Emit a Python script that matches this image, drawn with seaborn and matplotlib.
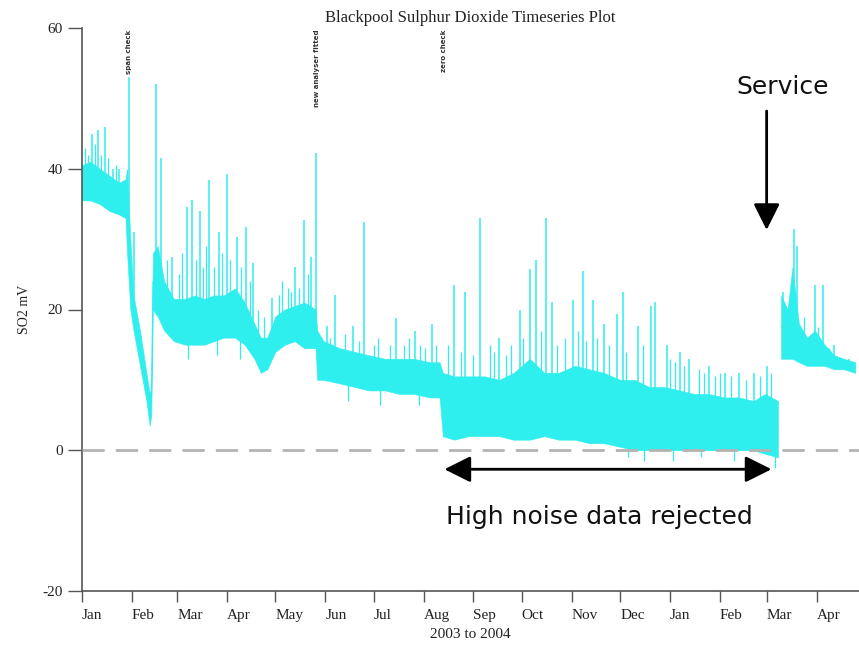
import numpy as np
import pandas as pd
import matplotlib
matplotlib.use("Agg")
import matplotlib.pyplot as plt
import matplotlib.dates as mdates
import seaborn as sns

# ---------------- data ----------------
# continuous record, Jan 2003 -> early Mar 2004 : noise band (low / high)
seg1_dates = ["2003-01-01", "2003-01-06", "2003-01-12", "2003-01-18", "2003-01-24", "2003-01-28",
              "2003-01-29", "2003-01-31", "2003-02-02", "2003-02-06", "2003-02-10", "2003-02-12",
              "2003-02-13", "2003-02-14", "2003-02-17", "2003-02-21", "2003-02-27", "2003-03-06",
              "2003-03-12", "2003-03-18", "2003-03-24", "2003-03-30", "2003-04-06", "2003-04-12",
              "2003-04-18", "2003-04-22", "2003-04-26", "2003-05-01", "2003-05-07", "2003-05-13",
              "2003-05-19", "2003-05-26", "2003-05-27", "2003-05-31", "2003-06-10", "2003-06-19",
              "2003-06-28", "2003-07-08", "2003-07-17", "2003-07-26", "2003-08-05", "2003-08-11",
              "2003-08-13", "2003-08-20", "2003-08-29", "2003-09-08", "2003-09-17", "2003-09-26",
              "2003-10-06", "2003-10-15", "2003-10-24", "2003-11-03", "2003-11-12", "2003-11-21",
              "2003-12-01", "2003-12-10", "2003-12-19", "2003-12-28", "2004-01-07", "2004-01-16",
              "2004-01-25", "2004-02-04", "2004-02-13", "2004-02-22", "2004-02-29", "2004-03-08"]
seg1_lo = [35.5, 35.5, 35, 34, 33.5, 33,
           28, 20, 17, 12, 7, 3.5,
           5, 20, 19, 17, 15.5, 15,
           15, 15, 15.5, 16, 16, 15,
           13, 11, 11.5, 14, 15, 15.5,
           14.5, 14.5, 10, 10, 9.5, 9,
           8.5, 8.5, 8, 8, 7.5, 7.5,
           2, 1.5, 2, 2, 2, 1.5,
           1.5, 2, 1.5, 1.5, 1, 1,
           0.5, 0, 0, 0, 0, 0,
           0, 0, 0, 0, -0.5, -1]
seg1_hi = [40.5, 41, 40, 39, 38, 38.5,
           40, 30, 22, 17, 11, 8,
           9, 28, 29, 24, 21.5, 21.5,
           22, 21.5, 22, 22, 23, 21,
           18, 16, 16, 19, 20, 20.5,
           21, 20, 17, 15.5, 14.5, 14,
           13.5, 13, 13, 13, 12.5, 12.5,
           11, 10.5, 10.5, 10.5, 10, 11,
           13, 11, 11, 12, 11.5, 11,
           10, 10, 9, 9, 8.5, 8,
           8, 7.5, 7.5, 7, 8, 7]

# record after the service, Mar -> Apr 2004
seg2_dates = ["2004-03-10", "2004-03-14", "2004-03-17", "2004-03-21", "2004-03-26",
              "2004-03-31", "2004-04-06", "2004-04-12", "2004-04-18", "2004-04-25"]
seg2_lo = [13, 13, 13, 12.5, 12, 12, 12, 11.5, 11.5, 11]
seg2_hi = [22, 20, 26, 18, 16, 17, 15, 13.5, 13, 12.5]

# tall isolated spikes (date, peak value)
spike_dates = ["2003-01-07", "2003-01-11", "2003-01-15", "2003-01-20", "2003-01-24", "2003-01-30",
               "2003-02-02", "2003-02-16", "2003-02-19", "2003-02-26", "2003-03-07", "2003-03-10",
               "2003-03-15", "2003-03-21", "2003-03-27", "2003-04-01", "2003-04-07", "2003-04-13",
               "2003-04-17", "2003-04-29", "2003-05-13", "2003-05-19", "2003-05-23", "2003-05-26",
               "2003-06-02", "2003-06-07", "2003-06-18", "2003-06-25", "2003-07-15", "2003-07-27",
               "2003-08-06", "2003-08-20", "2003-08-27", "2003-09-05", "2003-09-17", "2003-09-30",
               "2003-10-06", "2003-10-10", "2003-10-16", "2003-10-20", "2003-11-02", "2003-11-08",
               "2003-11-14", "2003-11-21", "2003-11-29", "2003-12-03", "2003-12-12", "2003-12-20",
               "2003-12-23", "2003-12-30", "2004-01-07", "2004-01-13", "2004-01-25", "2004-02-04",
               "2004-02-13", "2004-02-22", "2004-03-01", "2004-03-11", "2004-03-18", "2004-03-20",
               "2004-03-31", "2004-04-05", "2004-04-12", "2004-04-21"]
spike_peak = [45, 45.5, 46, 40, 40, 53,
              31, 52, 41.5, 27.4, 34.5, 35.5,
              34, 38.4, 31, 39.3, 30.3, 31.7,
              26.6, 21.7, 26, 32.7, 27.4, 42.2,
              17.6, 22, 17.6, 32.5, 18.8, 17,
              18, 23.5, 22.5, 33, 16, 20,
              25.7, 27, 33, 21, 21.3, 25.5,
              21.3, 18, 19.3, 22.5, 17.6, 20.5,
              21, 15, 14, 13, 12, 11,
              11, 11, 12, 22.5, 31.5, 29,
              23.5, 23.5, 15, 13]

# short excursions just outside the noise band (date, value)
minor_dates = ["2003-01-03", "2003-01-05", "2003-01-09", "2003-01-13", "2003-01-17", "2003-01-22",
               "2003-02-23", "2003-03-02", "2003-03-04", "2003-03-08", "2003-03-13", "2003-03-17",
               "2003-03-19", "2003-03-24", "2003-03-26", "2003-03-29", "2003-04-03", "2003-04-09",
               "2003-04-10", "2003-04-15", "2003-04-20", "2003-04-24", "2003-05-03", "2003-05-05",
               "2003-05-09", "2003-05-11", "2003-05-16", "2003-05-21", "2003-06-04", "2003-06-13",
               "2003-06-15", "2003-06-22", "2003-07-01", "2003-07-04", "2003-07-05", "2003-07-11",
               "2003-07-20", "2003-07-23", "2003-07-29", "2003-07-30", "2003-08-02", "2003-08-09",
               "2003-08-16", "2003-08-24", "2003-09-01", "2003-09-11", "2003-09-14", "2003-09-21",
               "2003-09-24", "2003-10-02", "2003-10-13", "2003-10-23", "2003-10-28", "2003-11-05",
               "2003-11-10", "2003-11-17", "2003-11-24", "2003-12-05", "2003-12-06", "2003-12-15",
               "2003-12-16", "2004-01-01", "2004-01-03", "2004-01-04", "2004-01-10", "2004-01-19",
               "2004-01-20", "2004-01-22", "2004-01-29", "2004-02-01", "2004-02-08", "2004-02-10",
               "2004-02-17", "2004-02-26", "2004-03-04", "2004-03-06", "2004-03-24", "2004-04-02",
               "2004-04-09"]
minor_value = [43, 42, 43.5, 42, 41.5, 40.5,
               27, 25, 28, 13, 27, 26,
               29, 26, 13.5, 28, 27, 13,
               26, 24, 20, 19, 22, 24,
               23, 22.5, 23, 25, 16, 16.5,
               7, 15.5, 15, 16, 6.5, 15,
               15, 16, 6.5, 15, 14.5, 15,
               15, 14, 13.5, 15, 14, 13.5,
               15, 16, 17, 15, 16, 17,
               15.5, 16, 15, 14, -1, 15,
               -1.5, 13, -1.5, 12.5, 12, 11.5,
               -1, 11, 10.5, 11, 10.5, -1.5,
               10, 10.5, 11, -2.5, 19, 17.5,
               14.5]

# event labels written vertically at the top of the plot
event_dates = ["2003-01-30", "2003-05-27", "2003-08-14"]
event_texts = ["span check", "new analyser fitted", "zero check"]

tick_dates = ["2003-01-01", "2003-02-01", "2003-03-01", "2003-04-01", "2003-05-01", "2003-06-01",
              "2003-07-01", "2003-08-01", "2003-09-01", "2003-10-01", "2003-11-01", "2003-12-01",
              "2004-01-01", "2004-02-01", "2004-03-01", "2004-04-01"]
tick_labels = ["Jan", "Feb", "Mar", "Apr", "May", "Jun", "Jul", "Aug", "Sep", "Oct", "Nov", "Dec",
               "Jan", "Feb", "Mar", "Apr"]
y_ticks = [-20, 0, 20, 40, 60]

# ---------------- styling ----------------
CYAN = "#2eeeee"
AXC = "#555555"
TXT = "#222222"
sns.set_theme(style="ticks")
plt.rcParams["font.family"] = ["Liberation Serif", "DejaVu Serif"]

fig = plt.figure(figsize=(8.59, 6.5), dpi=100)
ax = fig.add_axes([82 / 859, 59 / 650, 777 / 859, 563 / 650])

# long table: two rows per date (low and high), band = min..max
rows = []
for seg, (dd, lo, hi) in {"a": (seg1_dates, seg1_lo, seg1_hi),
                          "b": (seg2_dates, seg2_lo, seg2_hi)}.items():
    for d, l, h in zip(dd, lo, hi):
        rows.append((pd.Timestamp(d), l, seg))
        rows.append((pd.Timestamp(d), h, seg))
df = pd.DataFrame(rows, columns=["date", "value", "segment"])

sns.lineplot(data=df, x="date", y="value", hue="segment", palette=[CYAN, CYAN],
             estimator="mean", errorbar=("pi", 100),
             err_kws={"alpha": 1.0, "linewidth": 0.4, "edgecolor": CYAN},
             linewidth=0.6, legend=False, ax=ax, zorder=2)

# spikes leave from the middle of the band
band_x = np.concatenate([mdates.date2num(pd.to_datetime(seg1_dates)),
                         mdates.date2num(pd.to_datetime(seg2_dates))])
band_hi = np.concatenate([seg1_hi, seg2_hi])
band_lo = np.concatenate([seg1_lo, seg2_lo])


def band_mid(dates):
    x = mdates.date2num(pd.to_datetime(dates))
    return 0.5 * (np.interp(x, band_x, band_hi) + np.interp(x, band_x, band_lo))


ax.vlines(pd.to_datetime(spike_dates), band_mid(spike_dates), spike_peak,
          color=CYAN, linewidth=1.1, zorder=2)
ax.vlines(pd.to_datetime(minor_dates), band_mid(minor_dates), minor_value,
          color=CYAN, linewidth=0.9, zorder=2)

# zero reference line
ax.axhline(0, color="#b3b3b3", linewidth=2, dashes=(8, 4), zorder=3)

# axes
ax.set_xlim(pd.Timestamp("2003-01-01"), pd.Timestamp("2004-04-27 08:00"))
ax.set_ylim(-20, 60)
ax.set_xticks(pd.to_datetime(tick_dates))
ax.set_xticklabels(tick_labels, ha="left")
ax.set_yticks(y_ticks)
ax.set_yticklabels([str(v) for v in y_ticks])
for s in ["top", "right"]:
    ax.spines[s].set_visible(False)
for s in ["left", "bottom"]:
    ax.spines[s].set_color(AXC)
    ax.spines[s].set_linewidth(1.2)
ax.tick_params(axis="x", length=8, width=1, color=AXC, pad=5, labelsize=11, labelcolor=TXT)
ax.tick_params(axis="y", length=10, width=1, color=AXC, pad=4, labelsize=11, labelcolor=TXT)

ax.set_title("Blackpool Sulphur Dioxide Timeseries Plot", fontsize=12, pad=4, color=TXT)
ax.set_xlabel("2003 to 2004", fontsize=11, labelpad=4, color=TXT)
ax.set_ylabel("SO2 mV", fontsize=10, labelpad=8, color=TXT)

# vertical event labels
for d, t in zip(event_dates, event_texts):
    ax.text(pd.Timestamp(d), 59.8, t, rotation=90, va="top", ha="center",
            fontsize=5, fontweight="bold", color="#333333", family=["DejaVu Sans"])

# annotations
ax.text(pd.Timestamp("2004-03-11"), 51.6, "Service", ha="center", va="center",
        fontsize=18, color="#111111", family=["DejaVu Sans"])
ax.annotate("", xy=(pd.Timestamp("2004-03-01"), 31.3), xytext=(pd.Timestamp("2004-03-01"), 48.2),
            arrowprops=dict(arrowstyle="-|>,head_length=1.0,head_width=0.5", color="black",
                            lw=2, mutation_scale=16, shrinkA=0, shrinkB=0), zorder=5)
ax.annotate("", xy=(pd.Timestamp("2003-08-14"), -2.7), xytext=(pd.Timestamp("2004-03-04"), -2.7),
            arrowprops=dict(arrowstyle="<|-|>,head_length=1.0,head_width=0.5", color="black",
                            lw=2, mutation_scale=16, shrinkA=0, shrinkB=0), zorder=5)
ax.text(pd.Timestamp("2003-11-18"), -9.5, "High noise data rejected", ha="center", va="center",
        fontsize=18, color="#111111", family=["DejaVu Sans"])

fig.savefig("out.png", dpi=100)
